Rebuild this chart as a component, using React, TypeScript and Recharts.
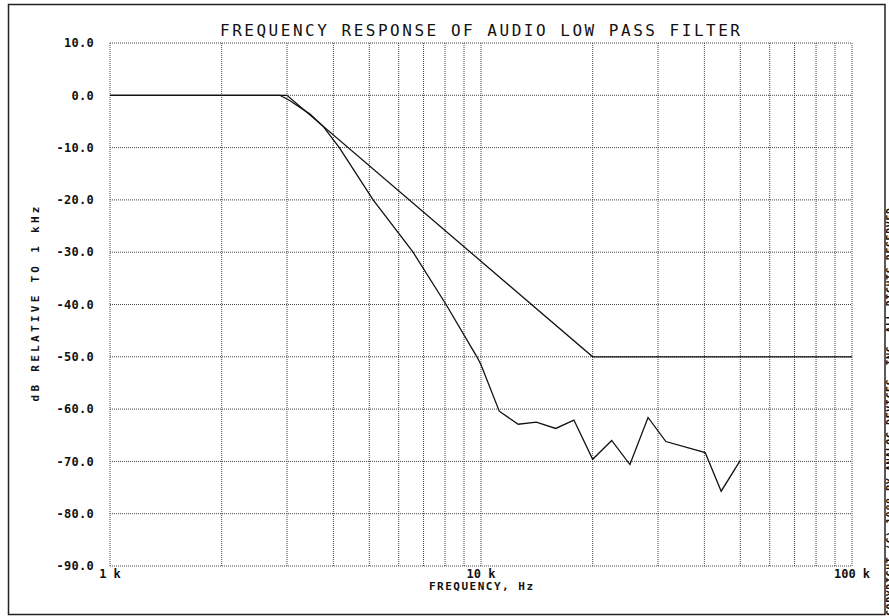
import React from 'react';
import { LineChart, Line, XAxis, YAxis, CartesianGrid } from 'recharts';

// straight-line (asymptotic) response
const asymFreq = [1000, 3000, 20000, 100000];
const asymDb = [0, 0, -50, -50];

// measured response
const measFreq = [
  1000, 2870, 3050, 3460, 3750, 4150, 5120, 6560, 8050, 9750, 10000,
  11200, 12600, 14100, 15900, 17800, 20000, 22500, 25200, 28200, 31500, 40200, 44400, 50000,
];
const measDb = [
  0, 0, -1, -3.6, -5.9, -10, -20, -30, -40, -50, -51.5,
  -60.4, -62.9, -62.5, -63.7, -62.1, -69.6, -66.0, -70.6, -61.6, -66.2, -68.3, -75.7, -69.8,
];

const xTicks = [
  1000, 2000, 3000, 4000, 5000, 6000, 7000, 8000, 9000, 10000,
  20000, 30000, 40000, 50000, 60000, 70000, 80000, 90000, 100000,
];
const xLabels: Record<number, string> = { 1000: '1 k', 10000: '10 k', 100000: '100 k' };
const yTicks = [10, 0, -10, -20, -30, -40, -50, -60, -70, -80, -90];

const asymData = asymFreq.map((f, i) => ({ f, db: asymDb[i] }));
const measData = measFreq.map((f, i) => ({ f, db: measDb[i] }));

const FONT = '"DejaVu Sans Mono", "Liberation Mono", monospace';

const XTick = (props: any) => {
  const { x, y, payload } = props;
  const label = xLabels[payload.value];
  if (!label) return null;
  return (
    <text x={x} y={y} dy={4} textAnchor="middle" fontFamily={FONT} fontSize={12} fontWeight="bold" fill="#111">
      {label}
    </text>
  );
};

const YTick = (props: any) => {
  const { x, y, payload } = props;
  return (
    <text x={x} y={y} dy="0.35em" textAnchor="end" fontFamily={FONT} fontSize={12} fontWeight="bold" fill="#111" letterSpacing={0.3}>
      {payload.value.toFixed(1)}
    </text>
  );
};

export default function App() {
  return (
    <div style={{ position: 'absolute', left: 0, top: 0, width: 889, height: 616, background: '#fff', overflow: 'hidden' }}>
      <LineChart width={889} height={616} margin={{ top: 43, right: 37, bottom: 20, left: 0 }}>
        <CartesianGrid stroke="#444" strokeDasharray="1 1" verticalValues={xTicks} horizontalValues={yTicks} />
        <XAxis
          type="number"
          dataKey="f"
          scale="log"
          domain={[1000, 100000]}
          ticks={xTicks}
          allowDataOverflow
          axisLine={false}
          tickLine={false}
          tickMargin={2}
          height={30}
          interval={0}
          tick={<XTick />}
        />
        <YAxis
          type="number"
          dataKey="db"
          domain={[-90, 10]}
          ticks={yTicks}
          allowDataOverflow
          axisLine={false}
          tickLine={false}
          tickMargin={10}
          width={110}
          interval={0}
          tick={<YTick />}
        />
        <Line data={asymData} dataKey="db" type="linear" stroke="#111" strokeWidth={1.3} dot={false} isAnimationActive={false} />
        <Line data={measData} dataKey="db" type="linear" stroke="#111" strokeWidth={1.3} dot={false} isAnimationActive={false} />
      </LineChart>
      <svg width={889} height={616} style={{ position: 'absolute', left: 0, top: 0, pointerEvents: 'none' }}>
        <rect x={8.5} y={4.5} width={876.5} height={610} fill="none" stroke="#222" strokeWidth={1.5} />
        <text x={480} y={36} textAnchor="middle" fontFamily={FONT} fontSize={16} fill="#111" textLength={520} lengthAdjust="spacing">
          FREQUENCY RESPONSE OF AUDIO LOW PASS FILTER
        </text>
        <text x={481} y={590} textAnchor="middle" fontFamily={FONT} fontSize={11} fontWeight="bold" fill="#111" textLength={104} lengthAdjust="spacing">
          FREQUENCY, Hz
        </text>
        <text
          transform="translate(39, 304) rotate(-90)"
          textAnchor="middle"
          fontFamily={FONT}
          fontSize={11}
          fontWeight="bold"
          fill="#111"
          textLength={195}
          lengthAdjust="spacing"
        >
          dB RELATIVE TO 1 kHz
        </text>
        <text
          transform="translate(894, 208) rotate(-90)"
          textAnchor="end"
          fontFamily={FONT}
          fontSize={10}
          fontWeight="bold"
          fill="#111"
          textLength={408}
          lengthAdjust="spacing"
        >
          COPYRIGHT (C) 1988 BY ANALOG DEVICES, INC.  ALL RIGHTS RESERVED
        </text>
      </svg>
    </div>
  );
}
